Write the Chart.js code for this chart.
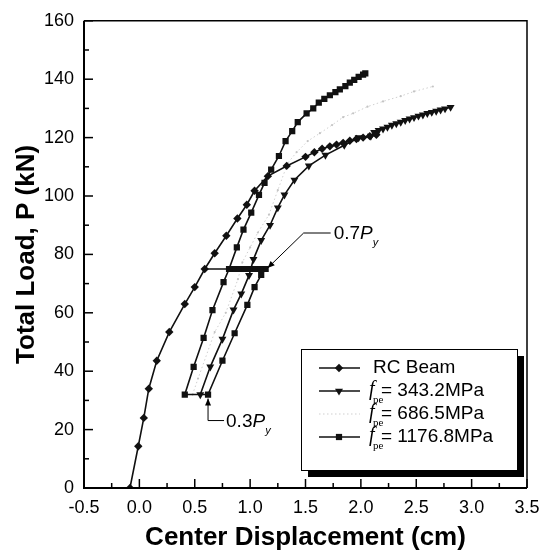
<!DOCTYPE html>
<html>
<head>
<meta charset="utf-8">
<script src="https://cdn.jsdelivr.net/npm/chart.js@4.4.1/dist/chart.umd.min.js"></script>
<style>
  html, body { margin: 0; padding: 0; background: #fff; }
</style>
</head>
<body>
<canvas id="myChart" width="549" height="557"></canvas>
<script>
// axis ticks
const xTicks = [-0.5, 0, 0.5, 1.0, 1.5, 2.0, 2.5, 3.0, 3.5];
const yTicks = [0, 20, 40, 60, 80, 100, 120, 140, 160];

// RC beam (diamonds)
const rcX = [-0.085, -0.01, 0.04, 0.085, 0.157, 0.27, 0.41, 0.5, 0.59, 0.68, 0.785, 0.885, 0.97, 1.04, 1.16, 1.33,
  1.5, 1.58, 1.65, 1.72, 1.78, 1.84, 1.9, 1.96, 2.02, 2.08, 2.14];
const rcY = [0, 14.3, 24, 34, 43.6, 53.4, 63, 68.8, 75, 80.4, 86.4, 92.3, 97, 101.8, 106.8, 110.3,
  113.4, 115, 116.2, 117, 117.6, 118.2, 118.9, 119.5, 120, 120.5, 121];

// fpe = 343.2 MPa (triangles)
const f343X = [0.55, 0.64, 0.75, 0.85, 0.92, 0.99, 1.03, 1.10, 1.18, 1.25, 1.31, 1.40, 1.53, 1.68, 1.85, 1.98,
  2.09, 2.12, 2.16, 2.20, 2.24, 2.28, 2.32, 2.36, 2.40, 2.44, 2.48, 2.52, 2.56, 2.60, 2.64, 2.68, 2.72, 2.76, 2.81];
const f343Y = [32, 41.5, 51, 61, 66.5, 72.8, 78.3, 84.8, 90, 96, 100.4, 105.5, 110.3, 114, 117.4, 120,
  120.5, 121.8, 122.5, 123.0, 123.6, 124.3, 124.8, 125.3, 125.9, 126.4, 126.9, 127.4, 127.8, 128.3, 128.7, 129.1, 129.5, 129.9, 130.4];

// fpe = 686.5 MPa (faint dotted)
const f686X = [0.48, 0.53, 0.68, 0.78, 0.89, 0.93, 1.0, 1.07, 1.17, 1.25, 1.34, 1.42, 1.52, 1.63, 1.74, 1.84,
  1.93, 2.06, 2.2, 2.36, 2.48, 2.65];
const f686Y = [32, 37.5, 53.4, 60, 71.5, 77.3, 82.4, 87.5, 93.6, 102, 111.3, 115, 118.8, 121.5, 124.3, 127,
  128.3, 130.6, 132.4, 134.2, 135.8, 137.5];

// fpe = 1176.8 MPa (squares): unload, reload loop, hold at 0.7Py, then to failure
const f1176X = [0.81, 0.76, 0.66, 0.58, 0.49, 0.41, 0.62, 0.75, 0.86, 0.975, 1.04, 1.1, 1.14, 1.09, 1.04, 0.99, 0.94, 0.89, 0.85, 0.81,
  0.88, 0.94, 1.01, 1.08, 1.13, 1.19, 1.26, 1.32, 1.38, 1.43, 1.51, 1.57, 1.62, 1.67, 1.72, 1.77, 1.81, 1.86, 1.9, 1.94, 1.98, 2.02, 2.04];
const f1176Y = [75, 70.5, 60.9, 51.4, 41.5, 32, 32, 43.6, 53, 62.7, 68.8, 73, 75, 75, 75, 75, 75, 75, 75, 75,
  82.4, 88.5, 94.3, 100.4, 104.5, 109, 113.7, 118.8, 122.2, 125.3, 128.3, 130, 132, 133.3, 134.5, 135.6, 136.5, 137.6, 138.8, 139.8, 140.8, 141.6, 142];

// thin line at 0.7Py running from the RC curve
const holdX = [0.59, 0.81];
const holdY = [75, 75];

const seriesNames = ['RC Beam', '343.2MPa', '686.5MPa', '1176.8MPa'];

const SANS = '"Liberation Sans", Arial, sans-serif';
const SERIF = '"Liberation Serif", "Times New Roman", serif';

function toPoints(xs, ys) {
    return xs.map((x, i) => ({x: x, y: ys[i]}));
}

function drawMarker(ctx, style, x, y, r) {
    ctx.beginPath();
    if (style === 'rectRot') {
        ctx.moveTo(x, y - r); ctx.lineTo(x + r, y); ctx.lineTo(x, y + r); ctx.lineTo(x - r, y);
    } else if (style === 'triangle') {
        ctx.moveTo(x - r * 0.87, y - r * 0.5); ctx.lineTo(x + r * 0.87, y - r * 0.5); ctx.lineTo(x, y + r);
    } else if (style === 'rect') {
        const h = r * Math.SQRT1_2;
        ctx.rect(x - h, y - h, 2 * h, 2 * h);
    } else {
        ctx.arc(x, y, r, 0, Math.PI * 2);
    }
    ctx.closePath();
    ctx.fill();
}

function arrowHead(ctx, fromX, fromY, toX, toY) {
    const ang = Math.atan2(toY - fromY, toX - fromX);
    const len = 7, half = 3;
    ctx.beginPath();
    ctx.moveTo(toX, toY);
    ctx.lineTo(toX - len * Math.cos(ang) + half * Math.sin(ang), toY - len * Math.sin(ang) - half * Math.cos(ang));
    ctx.lineTo(toX - len * Math.cos(ang) - half * Math.sin(ang), toY - len * Math.sin(ang) + half * Math.cos(ang));
    ctx.closePath();
    ctx.fill();
}

function drawPy(ctx, lead, x, y) {
    ctx.textBaseline = 'middle';
    ctx.textAlign = 'left';
    ctx.font = '19px ' + SANS;
    ctx.fillText(lead, x, y);
    let w = ctx.measureText(lead).width;
    ctx.font = 'italic 19px ' + SANS;
    ctx.fillText('P', x + w, y);
    w += ctx.measureText('P').width;
    ctx.font = 'italic 11px ' + SANS;
    ctx.fillText('y', x + w, y + 9);
}

const framePlugin = {
    id: 'framePlugin',
    afterDatasetsDraw(chart) {
        const {ctx, chartArea: a, scales: {x, y}} = chart;
        ctx.save();
        ctx.strokeStyle = '#000';
        ctx.fillStyle = '#000';

        // box
        ctx.lineWidth = 1.5;
        ctx.beginPath();
        ctx.moveTo(a.left, a.top); ctx.lineTo(a.right, a.top); ctx.lineTo(a.right, a.bottom);
        ctx.stroke();
        ctx.lineWidth = 2;
        ctx.beginPath();
        ctx.moveTo(a.left, a.top); ctx.lineTo(a.left, a.bottom); ctx.lineTo(a.right, a.bottom);
        ctx.stroke();

        // inward ticks, major and minor
        ctx.lineWidth = 1.5;
        for (let i = 0; i <= 16; i++) {
            const v = -0.5 + i * 0.25;
            const px = x.getPixelForValue(v);
            const len = i % 2 === 0 ? 9 : 5;
            ctx.beginPath(); ctx.moveTo(px, a.bottom); ctx.lineTo(px, a.bottom - len); ctx.stroke();
        }
        for (let i = 0; i <= 16; i++) {
            const py = y.getPixelForValue(i * 10);
            const len = i % 2 === 0 ? 9 : 5;
            ctx.beginPath(); ctx.moveTo(a.left, py); ctx.lineTo(a.left + len, py); ctx.stroke();
        }

        // 0.7Py note
        ctx.lineWidth = 1;
        const t7x = x.getPixelForValue(1.14) + 2, t7y = y.getPixelForValue(75) - 1;
        const e7x = t7x + 36, e7y = t7y - 35;
        ctx.beginPath(); ctx.moveTo(e7x + 27, e7y); ctx.lineTo(e7x, e7y); ctx.lineTo(t7x, t7y); ctx.stroke();
        arrowHead(ctx, e7x, e7y, t7x, t7y);
        drawPy(ctx, '0.7', e7x + 30, e7y + 1);

        // 0.3Py note
        const t3x = x.getPixelForValue(0.62), t3y = y.getPixelForValue(32) + 4;
        ctx.beginPath(); ctx.moveTo(t3x, t3y); ctx.lineTo(t3x, t3y + 22); ctx.lineTo(t3x + 16, t3y + 22); ctx.stroke();
        arrowHead(ctx, t3x, t3y + 22, t3x, t3y);
        drawPy(ctx, '0.3', t3x + 18, t3y + 23);

        // legend with drop shadow
        const lx = 301, ly = 349, lw = 216, lh = 121;
        ctx.fillRect(lx + 7, ly + 7, lw, lh);
        ctx.fillStyle = '#fff';
        ctx.fillRect(lx, ly, lw, lh);
        ctx.lineWidth = 1;
        ctx.strokeRect(lx + 0.5, ly + 0.5, lw, lh);
        chart.data.datasets.slice(0, 4).forEach((ds, i) => {
            const yc = ly + 19 + i * 23;
            ctx.save();
            ctx.strokeStyle = ds.borderColor;
            ctx.fillStyle = ds.pointBackgroundColor;
            ctx.lineWidth = ds.borderWidth;
            ctx.setLineDash(ds.borderDash || []);
            ctx.beginPath(); ctx.moveTo(lx + 18, yc); ctx.lineTo(lx + 59, yc); ctx.stroke();
            ctx.setLineDash([]);
            if (ds.pointRadius > 2) drawMarker(ctx, ds.pointStyle, lx + 38, yc, ds.pointRadius);
            ctx.restore();

            ctx.fillStyle = '#000';
            ctx.textBaseline = 'middle';
            ctx.textAlign = 'left';
            const tx = lx + 68;
            if (i === 0) {
                ctx.font = '19px ' + SANS;
                ctx.fillText(ds.label, tx + 4, yc);
            } else {
                ctx.font = 'italic 20px ' + SERIF;
                ctx.fillText('f', tx, yc - 1);
                ctx.font = '11px ' + SERIF;
                ctx.fillText('pe', tx + 4, yc + 9);
                ctx.font = '19px ' + SANS;
                ctx.fillText('= ' + ds.label, tx + 12, yc);
            }
        });
        ctx.restore();
    }
};

const ctx = document.getElementById('myChart');
new Chart(ctx, {
    type: 'scatter',
    data: {
        datasets: [{
            label: seriesNames[0],
            data: toPoints(rcX, rcY),
            showLine: true,
            borderColor: '#111',
            borderWidth: 1.6,
            pointStyle: 'rectRot',
            pointRadius: 4.2,
            pointBackgroundColor: '#111',
            pointBorderWidth: 0,
            order: 2
        }, {
            label: seriesNames[1],
            data: toPoints(f343X, f343Y),
            showLine: true,
            borderColor: '#111',
            borderWidth: 1.6,
            pointStyle: 'triangle',
            pointRotation: 180,
            pointRadius: 4.6,
            pointBackgroundColor: '#111',
            pointBorderWidth: 0,
            order: 3
        }, {
            label: seriesNames[2],
            data: toPoints(f686X, f686Y),
            showLine: true,
            borderColor: '#cfcfcf',
            borderWidth: 1,
            borderDash: [1.5, 2.5],
            pointStyle: 'circle',
            pointRadius: 1.1,
            pointBackgroundColor: '#c4c4c4',
            pointBorderWidth: 0,
            order: 5
        }, {
            label: seriesNames[3],
            data: toPoints(f1176X, f1176Y),
            showLine: true,
            borderColor: '#111',
            borderWidth: 1.6,
            pointStyle: 'rect',
            pointRadius: 4.4,
            pointBackgroundColor: '#111',
            pointBorderWidth: 0,
            order: 1
        }, {
            label: 'hold',
            data: toPoints(holdX, holdY),
            showLine: true,
            borderColor: '#111',
            borderWidth: 1.6,
            pointRadius: 0,
            order: 4
        }]
    },
    options: {
        responsive: false,
        animation: false,
        layout: {padding: {top: 17, right: 22, left: 0, bottom: 0}},
        plugins: {legend: {display: false}, tooltip: {enabled: false}},
        scales: {
            x: {
                type: 'linear',
                min: -0.5,
                max: 3.5,
                afterBuildTicks: s => { s.ticks = xTicks.map(v => ({value: v})); },
                afterFit: s => { s.height = 69; },
                grid: {display: false, drawTicks: false},
                border: {display: false},
                ticks: {
                    callback: v => v.toFixed(1),
                    font: {family: SANS, size: 18},
                    color: '#000',
                    padding: 9,
                    maxRotation: 0,
                    autoSkip: false
                },
                title: {
                    display: true,
                    text: 'Center Displacement (cm)',
                    font: {family: SANS, size: 26, weight: 'bold'},
                    color: '#000',
                    padding: {top: 0, bottom: 4}
                }
            },
            y: {
                type: 'linear',
                min: 0,
                max: 160,
                afterBuildTicks: s => { s.ticks = yTicks.map(v => ({value: v})); },
                afterFit: s => { s.width = 84; },
                grid: {display: false, drawTicks: false},
                border: {display: false},
                ticks: {
                    font: {family: SANS, size: 18},
                    color: '#000',
                    padding: 10
                },
                title: {
                    display: true,
                    text: 'Total Load, P (kN)',
                    font: {family: SANS, size: 26, weight: 'bold'},
                    color: '#000',
                    padding: {top: 11, bottom: 0}
                }
            }
        }
    },
    plugins: [framePlugin]
});
</script>
</body>
</html>
